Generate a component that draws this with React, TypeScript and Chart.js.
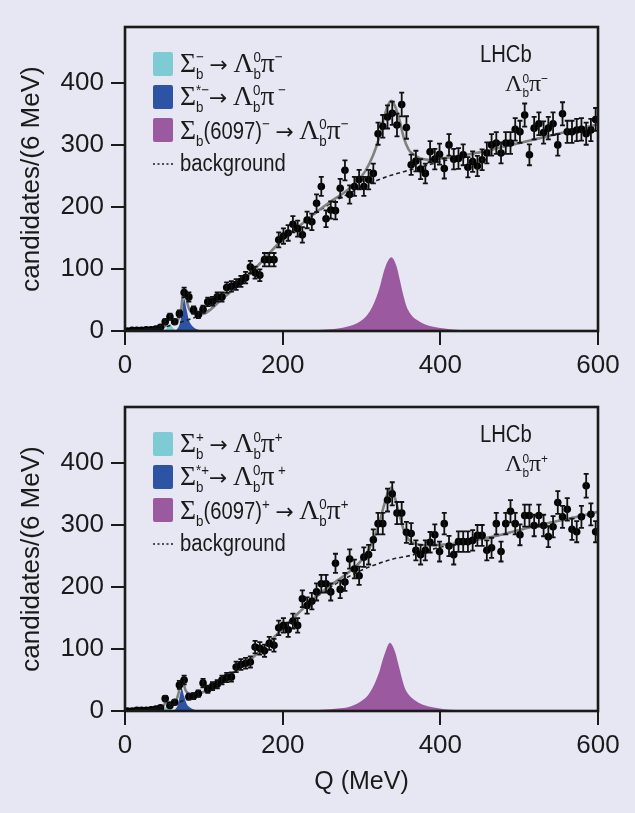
import React, { useEffect, useRef } from "react";
import { Chart, registerables } from "chart.js";

Chart.register(...registerables);

// ---------- colours ----------
const PAGE_BG = "#e6e7f2";
const CYAN = "#7fcbd3";
const BLUE = "#2d54a4";
const PURPLE = "#9b5aa0";
const INK = "#1a1a1a";
const FIT_GREY = "#808080";

// ---------- data ----------
const X_TICKS = [0, 200, 400, 600];
const Y_TICKS = [0, 100, 200, 300, 400];

// bin centres (6 MeV bins)
const BIN_Q = [
  3, 9, 15, 21, 27, 33, 39, 45, 51, 57, 63, 69, 75, 81, 87, 93, 99, 105, 111, 117,
  123, 129, 135, 141, 147, 153, 159, 165, 171, 177, 183, 189, 195, 201, 207, 213, 219, 225, 231, 237,
  243, 249, 255, 261, 267, 273, 279, 285, 291, 297, 303, 309, 315, 321, 327, 333, 339, 345, 351, 357,
  363, 369, 375, 381, 387, 393, 399, 405, 411, 417, 423, 429, 435, 441, 447, 453, 459, 465, 471, 477,
  483, 489, 495, 501, 507, 513, 519, 525, 531, 537, 543, 549, 555, 561, 567, 573, 579, 585, 591, 597,
];

// Λb0 π−  candidates per bin
const TOP_COUNTS = [
  0, 1, 1, 1, 2, 2, 3, 6, 15, 23, 15, 28, 62, 55, 34, 26, 35, 47, 48, 55,
  55, 70, 72, 75, 80, 86, 103, 94, 90, 115, 115, 115, 147, 153, 158, 172, 165, 155, 179, 176,
  206, 233, 181, 195, 194, 230, 259, 220, 233, 244, 233, 244, 254, 318, 330, 345, 351, 332, 365, 328,
  268, 274, 261, 254, 289, 277, 285, 262, 300, 277, 278, 284, 264, 273, 266, 276, 287, 300, 303, 287,
  303, 303, 325, 321, 348, 284, 327, 334, 320, 327, 334, 300, 350, 321, 321, 324, 325, 318, 324, 341,
];

// Λb0 π+  candidates per bin
const BOT_COUNTS = [
  0, 0, 1, 1, 1, 2, 3, 5, 20, 9, 14, 42, 50, 23, 24, 28, 45, 35, 40, 43,
  50, 54, 55, 71, 75, 77, 79, 103, 101, 97, 109, 106, 134, 138, 131, 145, 138, 181, 170, 177,
  192, 205, 205, 192, 238, 196, 208, 245, 229, 218, 248, 252, 276, 302, 302, 340, 350, 319, 319, 288,
  286, 259, 252, 259, 272, 284, 257, 302, 266, 252, 273, 273, 273, 275, 283, 283, 259, 263, 302, 257,
  302, 322, 302, 284, 315, 315, 299, 315, 299, 281, 297, 336, 313, 325, 293, 289, 313, 363, 317, 289,
];

// background (dashed) curve
const BG_Q = [0, 20, 40, 60, 80, 100, 120, 140, 160, 180, 200, 220, 240, 260, 280, 300, 320, 340, 360, 380, 400, 420, 440, 460, 480, 500, 520, 540, 560, 580, 600];
const TOP_BG = [0, 0.5, 3, 10, 18, 28, 48, 70, 94, 121, 148, 168, 188, 205, 219, 232, 243, 252, 259, 266, 273, 279, 285, 291, 297, 303, 309, 315, 321, 327, 333];
const BOT_BG = [0, 0.5, 3, 10, 20, 31, 47, 64, 84, 107, 133, 158, 181, 199, 214, 227, 237, 245, 250, 257, 264, 269, 274, 279, 285, 292, 298, 304, 310, 315, 321];

// total fit (grey) curve
const FIT_Q = [0, 20, 40, 48, 52, 56, 60, 64, 68, 71, 74, 77, 80, 84, 90, 100, 120, 140, 160, 180, 200, 220, 240, 260, 280, 295, 305, 315, 322, 328, 333, 338, 343, 348, 354, 360, 367, 375, 385, 400, 420, 450, 480, 510, 540, 570, 600];
const TOP_FIT = [0, 0.5, 3, 5, 10, 18.5, 17, 13.5, 20, 32.5, 61, 59, 40, 30, 27, 28, 48, 70, 94, 121, 148, 168, 189, 208, 225, 242, 258, 284, 310, 341, 362, 371, 361, 341, 310, 292, 284, 278, 276, 278, 281, 288, 297, 306, 315, 324, 333];
const BOT_FIT = [0, 0.5, 3, 7, 14, 14.5, 12, 15, 29, 50, 45, 33, 29, 27, 27, 31, 47, 64, 84, 107, 133, 158, 182, 202, 220, 236, 251, 276, 300, 329, 350, 360, 341, 317, 290, 276, 270, 268, 267, 268, 270, 277, 285, 295, 304, 312, 321];

// signal components
const TOP_CYAN_Q = [48, 51, 54, 57, 60, 63, 66];
const TOP_CYAN = [0, 2, 7, 11, 7, 2, 0];
const TOP_BLUE_Q = [62, 66, 69, 72, 75, 78, 81, 84, 88, 93, 100];
const TOP_BLUE = [0, 3, 10, 28, 52, 35, 18, 10, 5, 2, 0];
const TOP_PURPLE_Q = [230, 250, 270, 285, 295, 302, 308, 314, 319, 323, 327, 331, 335, 338, 341, 345, 349, 353, 357, 362, 370, 380, 391, 405, 420, 445];
const TOP_PURPLE = [0, 2, 4, 8, 13, 19, 27, 40, 55, 70, 90, 106, 116, 119, 115, 102, 80, 58, 40, 28, 18, 11, 7, 4, 2, 0];

const BOT_CYAN_Q = [45, 48, 51, 54, 57, 60, 63];
const BOT_CYAN = [0, 2, 6, 8, 5, 2, 0];
const BOT_BLUE_Q = [60, 64, 67, 70, 72, 75, 78, 82, 88, 95];
const BOT_BLUE = [0, 3, 10, 28, 36, 24, 12, 6, 2, 0];
const BOT_PURPLE_Q = [230, 250, 270, 285, 295, 302, 308, 314, 319, 323, 327, 331, 334, 336, 339, 343, 347, 351, 355, 360, 368, 378, 390, 405, 420, 445];
const BOT_PURPLE = [0, 2, 4, 7, 12, 18, 25, 37, 51, 65, 83, 98, 107, 110, 106, 94, 74, 54, 37, 26, 17, 10, 6, 3, 1.5, 0];

const Y_TITLE = "candidates/(6 MeV)";
const X_TITLE = "Q (MeV)";
const EXPERIMENT = "LHCb";

// ---------- rich text ----------
type Part = { t?: string; greek?: boolean; arrow?: boolean; sub?: string; sup?: string };
const SANS = '"Liberation Sans", Arial, "DejaVu Sans", sans-serif';
const SERIF = '"Liberation Serif", "DejaVu Serif", serif';
const ARROWF = '"DejaVu Sans", sans-serif';

function drawRich(ctx: CanvasRenderingContext2D, x: number, y: number, parts: Part[], size: number, sx: number) {
  let cx = x;
  ctx.textBaseline = "alphabetic";
  ctx.textAlign = "left";
  for (const p of parts) {
    if (p.t) {
      let sc = sx;
      let font = `${size}px ${SANS}`;
      if (p.greek) {
        sc = 1;
        font = `${size * 1.2}px ${SERIF}`;
      } else if (p.arrow) {
        sc = 1;
        font = `${size * 0.95}px ${ARROWF}`;
      }
      ctx.font = font;
      const w = ctx.measureText(p.t).width * sc;
      ctx.save();
      ctx.translate(cx, y);
      ctx.scale(sc, 1);
      ctx.fillText(p.t, 0, 0);
      ctx.restore();
      cx += w;
    }
    const ss = size * 0.66;
    ctx.font = `${ss}px ${SANS}`;
    let adv = 0;
    if (p.sub) {
      const w = ctx.measureText(p.sub).width * sx;
      ctx.save();
      ctx.translate(cx, y + size * 0.3);
      ctx.scale(sx, 1);
      ctx.fillText(p.sub, 0, 0);
      ctx.restore();
      adv = Math.max(adv, w);
    }
    if (p.sup) {
      const w = ctx.measureText(p.sup).width * sx;
      ctx.save();
      ctx.translate(cx, y - size * 0.42);
      ctx.scale(sx, 1);
      ctx.fillText(p.sup, 0, 0);
      ctx.restore();
      adv = Math.max(adv, w);
    }
    cx += adv;
  }
  return cx;
}

type PanelSpec = {
  sign: string;
  counts: number[];
  bg: number[];
  fit: number[];
  cyanQ: number[]; cyan: number[];
  blueQ: number[]; blue: number[];
  purpleQ: number[]; purple: number[];
  height: number;
  showXTitle: boolean;
};

const pts = (xs: number[], ys: number[]) => xs.map((x, i) => ({ x, y: ys[i] }));

function makeChart(canvas: HTMLCanvasElement, spec: PanelSpec) {
  const H = spec.height;
  const AREA_BOTTOM = 331;
  const s = spec.sign;

  const overlay = {
    id: "overlay",
    afterDatasetsDraw(chart: any) {
      const ctx: CanvasRenderingContext2D = chart.ctx;
      const area = chart.chartArea;
      const ys = chart.scales.y;
      // error bars
      chart.data.datasets.forEach((ds: any, di: number) => {
        if (!ds.yErr) return;
        const meta = chart.getDatasetMeta(di);
        ctx.save();
        ctx.beginPath();
        ctx.rect(area.left, area.top, area.right - area.left, area.bottom - area.top);
        ctx.clip();
        ctx.strokeStyle = "#111";
        ctx.lineWidth = 1.8;
        meta.data.forEach((el: any, i: number) => {
          const v = ds.data[i].y;
          const e = ds.yErr[i];
          if (e <= 0) return;
          const y1 = ys.getPixelForValue(v + e);
          const y2 = ys.getPixelForValue(v - e);
          ctx.beginPath();
          ctx.moveTo(el.x, y1);
          ctx.lineTo(el.x, y2);
          ctx.moveTo(el.x - 2.5, y1);
          ctx.lineTo(el.x + 2.5, y1);
          ctx.moveTo(el.x - 2.5, y2);
          ctx.lineTo(el.x + 2.5, y2);
          ctx.stroke();
        });
        ctx.restore();
      });
    },
    afterDraw(chart: any) {
      const ctx: CanvasRenderingContext2D = chart.ctx;
      const area = chart.chartArea;
      ctx.save();
      // frame
      ctx.strokeStyle = INK;
      ctx.lineWidth = 2.6;
      ctx.strokeRect(area.left, area.top, area.right - area.left, area.bottom - area.top);

      // legend swatches
      const sw = [CYAN, BLUE, PURPLE];
      const swTop = [52, 85, 118];
      sw.forEach((c, i) => {
        ctx.fillStyle = c;
        ctx.beginPath();
        (ctx as any).roundRect ? (ctx as any).roundRect(153, swTop[i], 20, 24, 2) : ctx.rect(153, swTop[i], 20, 24);
        ctx.fill();
      });
      ctx.fillStyle = INK;
      const size = 23;
      const sx = 0.88;
      const lam: Part = { t: "Λ", greek: true, sub: "b", sup: "0" };
      drawRich(ctx, 180, 72, [{ t: "Σ", greek: true, sub: "b", sup: s }, { t: " " }, { t: "→", arrow: true }, { t: " " }, lam, { t: "π", greek: true, sup: s }], size, sx);
      drawRich(ctx, 180, 105, [{ t: "Σ", greek: true, sub: "b", sup: "*" + s }, { t: "→", arrow: true }, { t: " " }, lam, { t: "π", greek: true, sup: " " + s }], size, sx);
      drawRich(ctx, 180, 139, [{ t: "Σ", greek: true, sub: "b" }, { t: "(6097)", sup: s }, { t: " " }, { t: "→", arrow: true }, { t: " " }, lam, { t: "π", greek: true, sup: s }], size, sx);
      // background legend
      ctx.strokeStyle = INK;
      ctx.lineWidth = 1.5;
      ctx.setLineDash([2, 2.5]);
      ctx.beginPath();
      ctx.moveTo(153, 164);
      ctx.lineTo(174, 164);
      ctx.stroke();
      ctx.setLineDash([]);
      drawRich(ctx, 180, 171, [{ t: "background" }], size, sx);

      // experiment label
      drawRich(ctx, 480, 62, [{ t: EXPERIMENT }], 23, 0.88);
      drawRich(ctx, 505, 91, [{ t: "Λ", greek: true, sub: "b", sup: "0" }, { t: "π", greek: true, sup: s }], 20, 0.9);

      // y-axis title
      ctx.save();
      ctx.translate(32, (area.top + area.bottom) / 2);
      ctx.rotate(-Math.PI / 2);
      ctx.font = `26px ${SANS}`;
      ctx.textAlign = "center";
      ctx.textBaseline = "middle";
      ctx.fillText(Y_TITLE, 0, 0);
      ctx.restore();

      if (spec.showXTitle) {
        ctx.font = `25px ${SANS}`;
        ctx.textAlign = "center";
        ctx.textBaseline = "middle";
        ctx.fillText(X_TITLE, (area.left + area.right) / 2, 402);
      }
      ctx.restore();
    },
  };

  const tickFont = { family: SANS, size: 26 };
  const gridOpts = { drawOnChartArea: false, drawTicks: true, tickLength: 14, lineWidth: 2, color: INK };

  return new Chart(canvas, {
    type: "line",
    data: {
      datasets: [
        {
          label: "data",
          data: pts(BIN_Q, spec.counts),
          yErr: spec.counts.map((c) => Math.sqrt(c)),
          showLine: false,
          pointRadius: 3.8,
          pointBackgroundColor: "#000",
          pointBorderWidth: 0,
          order: 0,
        } as any,
        {
          label: "fit",
          data: pts(FIT_Q, spec.fit),
          borderColor: FIT_GREY,
          borderWidth: 2.6,
          pointRadius: 0,
          cubicInterpolationMode: "monotone",
          fill: false,
          order: 1,
        },
        {
          label: "background",
          data: pts(BG_Q, spec.bg),
          borderColor: "#222",
          borderWidth: 1.6,
          borderDash: [4, 3],
          pointRadius: 0,
          cubicInterpolationMode: "monotone",
          fill: false,
          order: 2,
        },
        {
          label: "Sb(6097)",
          data: pts(spec.purpleQ, spec.purple),
          borderWidth: 0,
          borderColor: "rgba(0,0,0,0)",
          backgroundColor: PURPLE,
          pointRadius: 0,
          cubicInterpolationMode: "monotone",
          fill: "origin",
          order: 3,
        },
        {
          label: "Sb*",
          data: pts(spec.blueQ, spec.blue),
          borderWidth: 0,
          borderColor: "rgba(0,0,0,0)",
          backgroundColor: BLUE,
          pointRadius: 0,
          cubicInterpolationMode: "monotone",
          fill: "origin",
          order: 4,
        },
        {
          label: "Sb",
          data: pts(spec.cyanQ, spec.cyan),
          borderWidth: 0,
          borderColor: "rgba(0,0,0,0)",
          backgroundColor: CYAN,
          pointRadius: 0,
          cubicInterpolationMode: "monotone",
          fill: "origin",
          order: 5,
        },
      ],
    },
    options: {
      animation: false,
      responsive: false,
      devicePixelRatio: 1,
      events: [],
      layout: { padding: { top: 27, right: 37, left: 0, bottom: 0 } },
      plugins: {
        legend: { display: false },
        tooltip: { enabled: false },
        title: { display: false },
      },
      scales: {
        x: {
          type: "linear",
          min: 0,
          max: 600,
          afterBuildTicks: (sc: any) => {
            sc.ticks = X_TICKS.map((v) => ({ value: v }));
          },
          afterFit: (sc: any) => {
            sc.height = H - AREA_BOTTOM;
          },
          grid: gridOpts,
          border: { display: false },
          ticks: { color: INK, font: tickFont, padding: 5, maxRotation: 0, autoSkip: false },
        },
        y: {
          type: "linear",
          min: 0,
          max: 490,
          afterBuildTicks: (sc: any) => {
            sc.ticks = Y_TICKS.map((v) => ({ value: v }));
          },
          afterFit: (sc: any) => {
            sc.width = 125;
          },
          grid: gridOpts,
          border: { display: false },
          ticks: { color: INK, font: tickFont, padding: 7, autoSkip: false },
        },
      },
    } as any,
    plugins: [overlay],
  });
}

const TOP_SPEC: PanelSpec = {
  sign: "−",
  counts: TOP_COUNTS,
  bg: TOP_BG,
  fit: TOP_FIT,
  cyanQ: TOP_CYAN_Q, cyan: TOP_CYAN,
  blueQ: TOP_BLUE_Q, blue: TOP_BLUE,
  purpleQ: TOP_PURPLE_Q, purple: TOP_PURPLE,
  height: 380,
  showXTitle: false,
};

const BOT_SPEC: PanelSpec = {
  sign: "+",
  counts: BOT_COUNTS,
  bg: BOT_BG,
  fit: BOT_FIT,
  cyanQ: BOT_CYAN_Q, cyan: BOT_CYAN,
  blueQ: BOT_BLUE_Q, blue: BOT_BLUE,
  purpleQ: BOT_PURPLE_Q, purple: BOT_PURPLE,
  height: 433,
  showXTitle: true,
};

function Panel({ spec, top }: { spec: PanelSpec; top: number }) {
  const ref = useRef<HTMLCanvasElement | null>(null);
  useEffect(() => {
    if (!ref.current) return;
    const chart = makeChart(ref.current, spec);
    return () => chart.destroy();
  }, [spec]);
  return (
    <canvas
      ref={ref}
      width={635}
      height={spec.height}
      style={{ position: "absolute", left: 0, top, width: 635, height: spec.height, display: "block" }}
    />
  );
}

export default function App() {
  return (
    <div
      style={{
        position: "absolute",
        left: 0,
        top: 0,
        width: 635,
        height: 813,
        background: PAGE_BG,
        overflow: "hidden",
      }}
    >
      <Panel spec={TOP_SPEC} top={0} />
      <Panel spec={BOT_SPEC} top={380} />
    </div>
  );
}
